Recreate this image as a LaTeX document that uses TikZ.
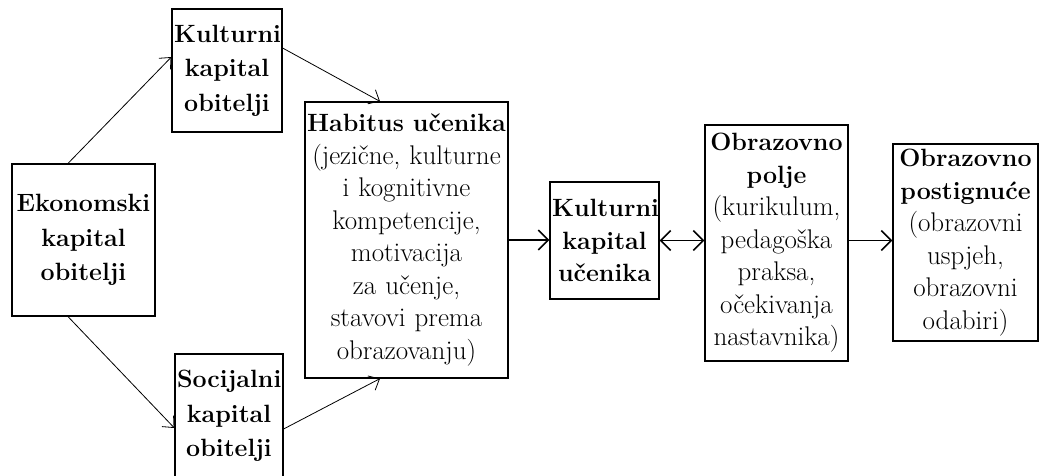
\documentclass[tikz,border=0pt]{standalone}
\usepackage{fontspec}
\usetikzlibrary{arrows.meta}
\newcommand\hdtext[1]{{\fontsize{25}{32.5}\selectfont\bfseries #1}}
\begin{document}
\begin{tikzpicture}[x=1pt,y=-1pt,
  box/.style={draw, line width=1.2pt, inner sep=0pt, align=center},
  famtext/.style={font=\fontsize{25}{34.5}\selectfont},
  bodytext/.style={font=\fontsize{27}{32.5}\selectfont},
  thinarrow/.style={-{Straight Barb[length=9pt,width=16pt]}, line width=0.8pt},
  thickarrow/.style={-{Straight Barb[length=10pt,width=20pt]}, line width=1.6pt},
  boththick/.style={{Straight Barb[length=10pt,width=20pt]}-{Straight Barb[length=10pt,width=20pt]}, line width=1.6pt}]
\useasboundingbox (0,0) rectangle (1039,475);
\node[box, famtext, minimum width=143pt, minimum height=152pt, text width=139pt] (eko) at (83.5,240)
  {\textbf{Ekonomski}\\\textbf{kapital}\\\textbf{obitelji}};
\node[box, famtext, minimum width=110pt, minimum height=123pt, text width=106pt] (kko) at (227,70.5)
  {\textbf{Kulturni}\\\textbf{kapital}\\\textbf{obitelji}};
\node[box, famtext, minimum width=108pt, minimum height=124pt, text width=104pt] (soc) at (229,416)
  {\textbf{Socijalni}\\\textbf{kapital}\\\textbf{obitelji}};
\node[box, bodytext, minimum width=203pt, minimum height=276pt, text width=199pt] (hab) at (406.5,240)
  {\hdtext{Habitus učenika}\\(jezične, kulturne\\i kognitivne\\kompetencije,\\motivacija\\za učenje,\\stavovi prema\\obrazovanju)};
\node[box, famtext, minimum width=109pt, minimum height=117pt, text width=105pt] (kcu) at (604.5,240.5)
  {\textbf{Kulturni}\\[-2pt]\textbf{kapital}\\[-2pt]\textbf{učenika}};
\node[box, bodytext, minimum width=143pt, minimum height=236pt, text width=139pt] (obp) at (776.5,243)
  {\hdtext{Obrazovno}\\\hdtext{polje}\\(kurikulum,\\pedagoška\\praksa,\\očekivanja\\nastavnika)};
\node[box, bodytext, minimum width=145pt, minimum height=197pt, text width=141pt] (obs) at (965.5,242.5)
  {\hdtext{Obrazovno}\\\hdtext{postignuće}\\(obrazovni\\uspjeh,\\obrazovni\\odabiri)};
\draw[thinarrow] ([xshift=-15.5pt]eko.north) -- ([yshift=13.5pt]kko.west);
\draw[thinarrow] ([yshift=22.5pt]kko.east) -- ([xshift=-26.5pt]hab.north);
\draw[thinarrow] ([xshift=-15.5pt]eko.south) -- ([yshift=-12pt]soc.west);
\draw[thinarrow] ([yshift=-13pt]soc.east) -- ([xshift=-26.5pt]hab.south);
\draw[thickarrow] (hab.east) -- (kcu.west |- hab.east);
\draw[boththick] (kcu.east) -- (obp.west |- kcu.east);
\draw[thickarrow] (obp.east |- kcu.east) -- (obs.west |- kcu.east);
\end{tikzpicture}
\end{document}
